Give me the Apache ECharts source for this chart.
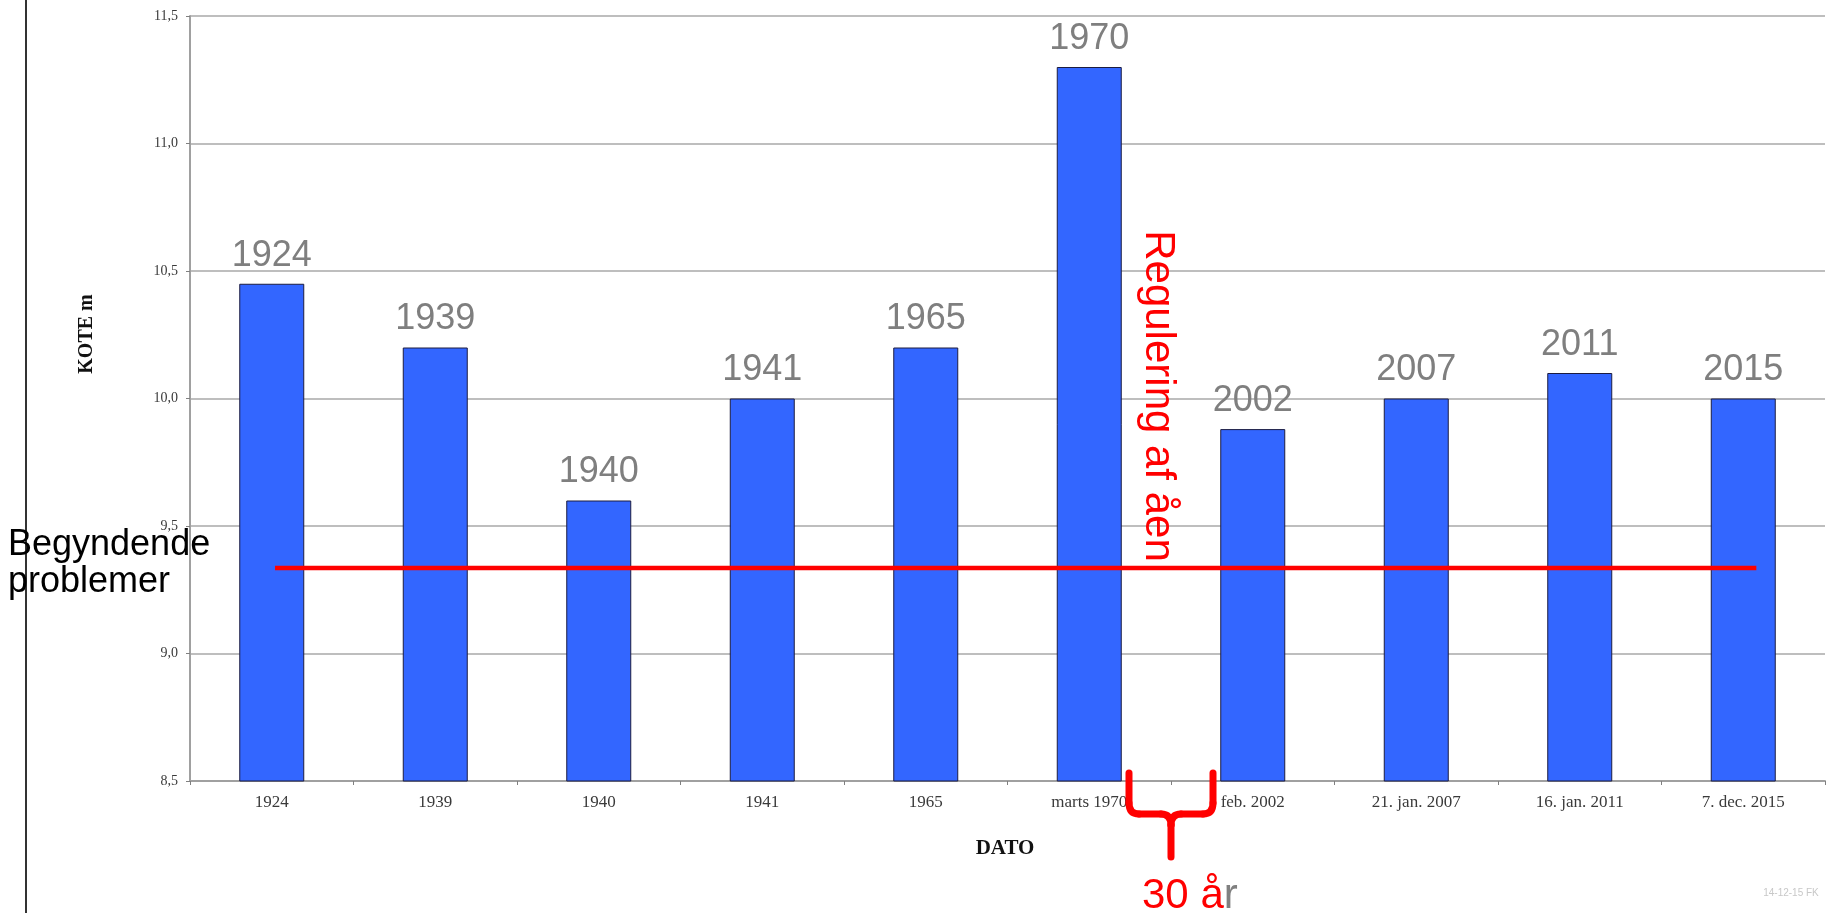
<!DOCTYPE html>
<html>
<head>
<meta charset="utf-8">
<script src="https://cdn.jsdelivr.net/npm/echarts@6/dist/echarts.min.js"></script>
<style>
  html, body { margin: 0; padding: 0; background: #ffffff; }
  #chart { width: 1826px; height: 913px; }
</style>
</head>
<body>
<div id="chart"></div>
<script>
// ---- Data ----
const categories = ['1924', '1939', '1940', '1941', '1965', 'marts 1970', 'feb. 2002', '21. jan. 2007', '16. jan. 2011', '7. dec. 2015'];
const yearLabels = ['1924', '1939', '1940', '1941', '1965', '1970', '2002', '2007', '2011', '2015'];
const levels = [10.45, 10.2, 9.6, 10.0, 10.2, 11.3, 9.88, 10.0, 10.1, 10.0];
const yMin = 8.5;
const yMax = 11.5;
const yStep = 0.5;
const problemLevel = 9.335;
const problemSpan = [0.52, 9.58];      // in category-band units along the hidden value axis
const regulationBoundary = 6;          // boundary between 'marts 1970' and 'feb. 2002'

const chart = echarts.init(document.getElementById('chart'), null, { renderer: 'canvas' });

const serif = 'Liberation Serif, Times New Roman, serif';
const sans = 'Liberation Sans, Arial, sans-serif';

const option = {
  backgroundColor: '#ffffff',
  animation: false,
  grid: { left: 190, right: 1, top: 16, bottom: 132, containLabel: false },
  xAxis: [
    {
      type: 'category',
      data: categories,
      boundaryGap: true,
      axisLine: { show: true, lineStyle: { color: '#a0a0a0', width: 2 } },
      axisTick: { show: true, length: 4, lineStyle: { color: '#808080', width: 1 } },
      axisLabel: { fontFamily: serif, fontSize: 17, color: '#3a3a3a', margin: 13 },
      splitLine: { show: false }
    },
    {
      type: 'value',
      min: 0,
      max: 10,
      show: false
    }
  ],
  yAxis: {
    type: 'value',
    min: yMin,
    max: yMax,
    interval: yStep,
    axisLine: { show: true, lineStyle: { color: '#a0a0a0', width: 2 } },
    axisTick: { show: true, length: 4, lineStyle: { color: '#808080', width: 1 } },
    axisLabel: {
      fontFamily: serif, fontSize: 14, color: '#3a3a3a', margin: 12,
      formatter: v => v.toFixed(1).replace('.', ',')
    },
    splitLine: { show: true, lineStyle: { color: '#a8a8a8', width: 1.5 } }
  },
  series: [
    {
      type: 'bar',
      xAxisIndex: 0,
      data: levels,
      barWidth: 65,
      itemStyle: { color: '#3366ff', borderColor: '#1c1c40', borderWidth: 1 },
      label: {
        show: true,
        position: 'top',
        distance: 10,
        fontFamily: sans,
        fontSize: 36,
        color: '#7f7f7f',
        formatter: p => yearLabels[p.dataIndex]
      },
      z: 2
    },
    {
      type: 'line',
      xAxisIndex: 1,
      yAxisIndex: 0,
      data: [[problemSpan[0], problemLevel], [problemSpan[1], problemLevel]],
      symbol: 'none',
      lineStyle: { color: '#ff0000', width: 4.5 },
      z: 5
    }
  ]
};

chart.setOption(option);

// Annotation positions anchored to the axes
const bx = chart.convertToPixel({ xAxisIndex: 1 }, regulationBoundary);
const axisY = chart.convertToPixel({ yAxisIndex: 0 }, yMin);

const red = '#ff0000';
const braceStyle = { stroke: red, lineWidth: 7, lineCap: 'round', lineJoin: 'round', fill: null };
const armTop = axisY - 8;
const armBend = axisY + 22;
const barY = axisY + 33;
const stemBottom = axisY + 76;

function braceHalf(sign) {
  const ax = bx + sign * 42;
  return [
    { type: 'line', z: 100, shape: { x1: ax, y1: armTop, x2: ax, y2: armBend }, style: braceStyle },
    { type: 'bezierCurve', z: 100, shape: { x1: ax, y1: armBend, cpx1: ax, cpy1: barY, x2: ax - sign * 10, y2: barY }, style: braceStyle },
    { type: 'line', z: 100, shape: { x1: ax - sign * 10, y1: barY, x2: bx + sign * 10, y2: barY }, style: braceStyle },
    { type: 'bezierCurve', z: 100, shape: { x1: bx + sign * 10, y1: barY, cpx1: bx, cpy1: barY, x2: bx, y2: barY + 11 }, style: braceStyle }
  ];
}

chart.setOption({
  graphic: [
    // left frame line
    {
      type: 'line', z: 100,
      shape: { x1: 26, y1: 0, x2: 26, y2: 913 },
      style: { stroke: '#333333', lineWidth: 2 }
    },
    // y axis name
    {
      type: 'text', z: 100,
      x: 87, y: 334, rotation: Math.PI / 2,
      style: { text: 'KOTE m', fontFamily: serif, fontWeight: 'bold', fontSize: 20, fill: '#111111', align: 'center', verticalAlign: 'middle' }
    },
    // x axis name
    {
      type: 'text', z: 100,
      x: 1005, y: 849,
      style: { text: 'DATO', fontFamily: serif, fontWeight: 'bold', fontSize: 21, fill: '#111111', align: 'center', verticalAlign: 'middle' }
    },
    // Begyndende problemer
    {
      type: 'text', z: 100,
      x: 8, y: 527,
      style: { text: 'Begyndende\nproblemer', fontFamily: sans, fontSize: 36, lineHeight: 37, fill: '#000000', align: 'left', verticalAlign: 'top' }
    },
    // Regulering af åen
    {
      type: 'text', z: 100,
      x: bx - 13, y: 396, rotation: -Math.PI / 2,
      style: { text: 'Regulering af åen', fontFamily: sans, fontSize: 42, fill: red, align: 'center', verticalAlign: 'middle' }
    },
    // brace
    ...braceHalf(-1),
    ...braceHalf(1),
    { type: 'line', z: 100, shape: { x1: bx, y1: barY + 11, x2: bx, y2: stemBottom }, style: braceStyle },
    // 30 år
    {
      type: 'text', z: 100,
      x: bx - 29, y: 896,
      style: {
        text: '{r|30 å}{g|r}',
        align: 'left', verticalAlign: 'middle',
        rich: {
          r: { fontFamily: sans, fontSize: 42, fill: red },
          g: { fontFamily: sans, fontSize: 42, fill: '#808080' }
        }
      }
    },
    // footer
    {
      type: 'text', z: 100,
      x: 1791, y: 893,
      style: { text: '14-12-15 FK', fontFamily: sans, fontSize: 10, fill: '#c8c8c8', align: 'center', verticalAlign: 'middle' }
    }
  ]
});
</script>
</body>
</html>
